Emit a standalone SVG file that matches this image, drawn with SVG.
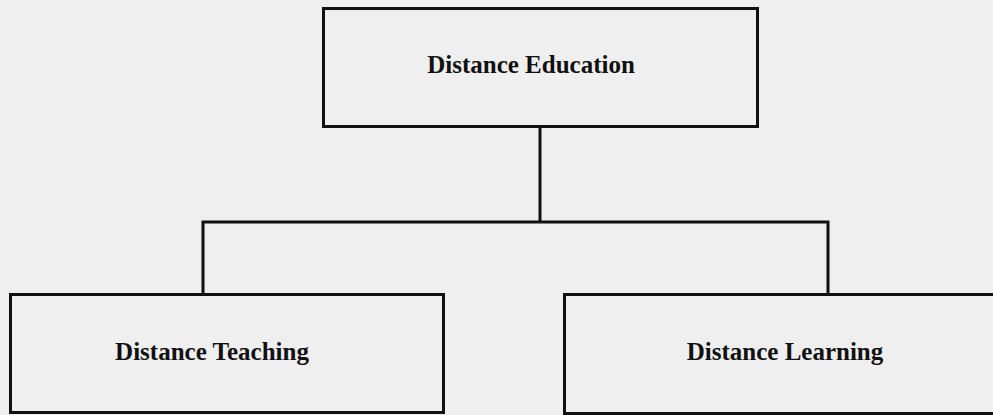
<svg xmlns="http://www.w3.org/2000/svg" width="993" height="415" viewBox="0 0 993 415">
<style>
.box{fill:none;stroke:#111;stroke-width:3}
.conn{fill:none;stroke:#111;stroke-width:3;stroke-linejoin:miter}
.lbl{font-family:"Liberation Serif","Times New Roman",serif;font-weight:bold;font-size:25px;fill:#111;text-anchor:middle}
</style>
<rect width="993" height="415" fill="#efefef"/>
<g id="connectors">
<path class="conn" d="M540,127 V222"/>
<path class="conn" d="M203,295 V222 H828 V295"/>
</g>
<g id="node-education">
<rect class="box" x="323.5" y="8.5" width="434" height="118"/>
<text class="lbl" x="531" y="73">Distance Education</text>
</g>
<g id="node-teaching">
<rect class="box" x="10.5" y="294.5" width="433" height="118"/>
<text class="lbl" x="212" y="360">Distance Teaching</text>
</g>
<g id="node-learning">
<rect class="box" x="564.5" y="294.5" width="440" height="119"/>
<text class="lbl" x="785" y="360">Distance Learning</text>
</g>
</svg>
